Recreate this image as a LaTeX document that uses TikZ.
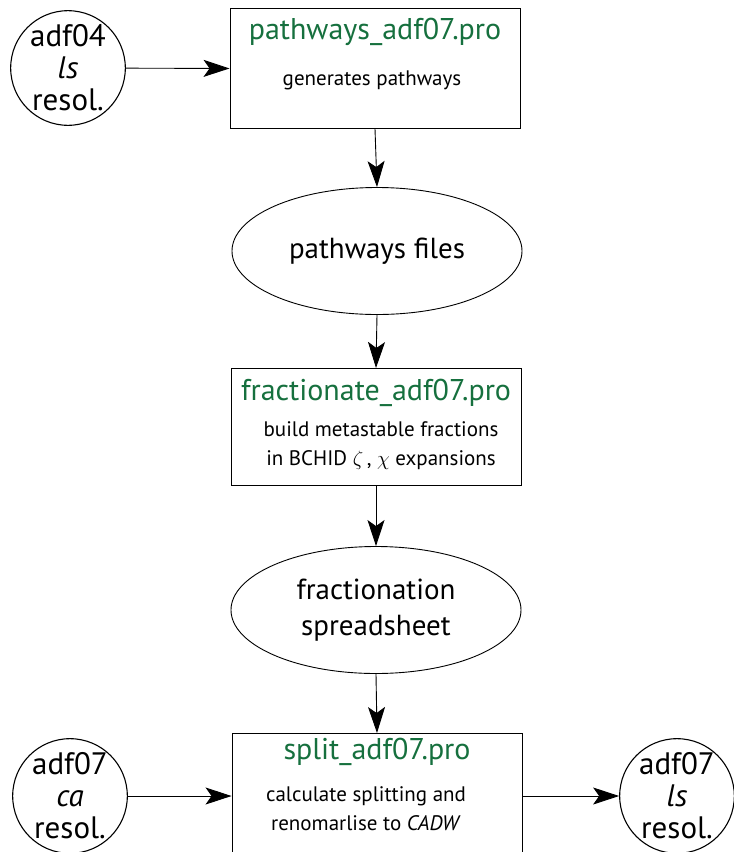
\documentclass[tikz,border=0pt]{standalone}
\usepackage{fontspec}
\setmainfont{PT Sans}
\usetikzlibrary{arrows.meta,shapes.geometric}
\definecolor{progreen}{RGB}{22,112,62}
\begin{document}
\begin{tikzpicture}[x=1pt,y=-1pt,
  line width=0.9pt,
  prog/.style={draw,rectangle,minimum width=290pt,anchor=north},
  oval/.style={draw,ellipse,minimum width=290pt,minimum height=127pt,font=\fontsize{29}{36}\selectfont,align=center},
  res/.style={draw,circle,line width=1.1pt,minimum size=114pt,inner sep=0pt,font=\fontsize{31}{32}\selectfont,align=center},
  title/.style={text=progreen,font=\fontsize{30}{32}\selectfont},
  note/.style={font=\fontsize{21}{29}\selectfont,align=center},
  flow/.style={-{Stealth[length=26pt,width=17pt,inset=6pt]}}]
\useasboundingbox (0,0) rectangle (734,852);

% programme boxes
\node[prog,minimum height=120pt] (pw) at (375,8) {};
\node[title] at (375,32) {pathways\_adf07.pro};
\node[note] at (372,80) {generates pathways};

\node[oval] (pf) at (377,251) {pathways files};

\node[prog,minimum height=117pt] (fr) at (376,368) {};
\node[title] at (376,393) {fractionate\_adf07.pro};
\node[note] at (381,446) {build metastable fractions\\in BCHID $\zeta$\,, $\chi$ expansions};

\node[oval] (fs) at (376,610) {fractionation\\spreadsheet};

\node[prog,minimum height=140pt] (sp) at (377,733) {};
\node[title] at (377,752) {split\_adf07.pro};
\node[note] at (366,809) {calculate splitting and\\renomarlise to \textit{CADW}};

% data sets
\node[res] (a4) at (68,68) {adf04\\\textit{ls}\\resol.};
\node[res] (a7c) at (70,796) {adf07\\\textit{ca}\\resol.};
\node[res] (a7l) at (677,796) {adf07\\\textit{ls}\\resol.};

% connectors
\draw[flow] (a4) -- (pw.west);
\draw[flow] (pw.south) -- (pf.north);
\draw[flow] (pf.south) -- (fr.north);
\draw[flow] (fr.south) -- (fs.north);
\draw[flow] (fs.south) -- (sp.north);
\draw[flow] (a7c.east) -- (a7c.east -| sp.west);
\draw[flow] (a7l.west -| sp.east) -- (a7l.west);
\end{tikzpicture}
\end{document}
